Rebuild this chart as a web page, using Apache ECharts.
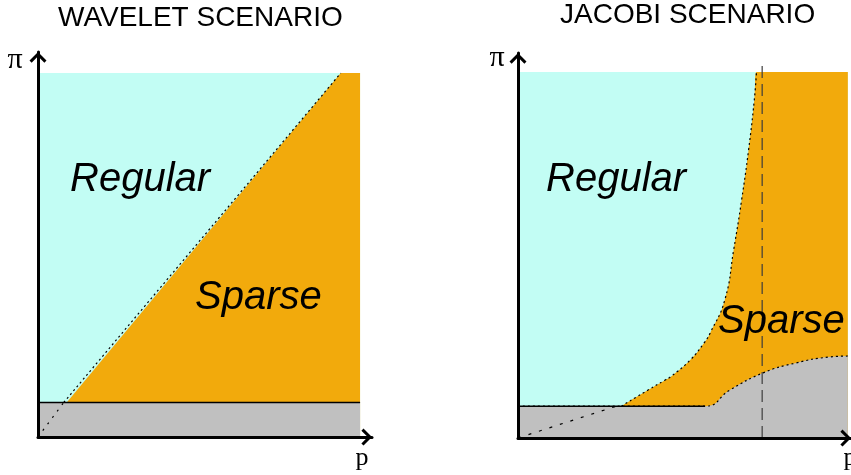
<!DOCTYPE html>
<html>
<head>
<meta charset="utf-8">
<script src="https://cdn.jsdelivr.net/npm/echarts@6/dist/echarts.min.js"></script>
<style>
  html, body { margin: 0; background: #fff; }
  #chart { width: 851px; height: 475px; }
</style>
</head>
<body>
<div id="chart"></div>
<script>
// wavelet scenario (p, pi) in units of the plotted box
const waveletTop = [[0, 1], [1, 1]];
const waveletDiagonal = [[0.08, 0.095], [0.94, 1]];
const waveletLowLine = [[0, 0], [0.08, 0.095]];
const waveletSparse = [[0, 0], [0.94, 1], [1, 1]];
const waveletFloor = [[0, 0.095], [1, 0.095]];

// jacobi scenario
const jacobiTop = [[0, 1], [1.04, 1]];
const jacobiBoundary = [[0.326, 0.087], [0.41, 0.131], [0.463, 0.158], [0.481, 0.167], [0.543, 0.213],
  [0.587, 0.26], [0.606, 0.287], [0.652, 0.377], [0.68, 0.514], [0.705, 0.65], [0.727, 0.787],
  [0.745, 0.923], [0.752, 1.0]];
const jacobiSparse = jacobiBoundary.concat([[1.04, 1]]);
const jacobiFloorFlat = [[0, 0.087], [0.59, 0.087]];
const jacobiFloor = [[0, 0.087], [0.59, 0.087], [0.668, 0.131], [0.773, 0.178], [0.876, 0.205],
  [0.978, 0.221], [1.04, 0.224]];
const jacobiLowLine = [[0, 0], [0.31, 0.087]];
const jacobiCut = [[0.77, 0], [0.77, 1.02]];

const CYAN = '#c2fdf4', ORANGE = '#f2aa0c', GRAY = '#c0c0c0';
const chevron = 'path://M10,0 L20,10 L17.5,12.5 L10,5 L2.5,12.5 L0,10 Z M10,-12.5 L10.01,-12.5 Z';

function axis(gridIndex, max) {
  return {
    gridIndex, type: 'value', min: 0, max, z: 10,
    axisLine: { show: true, onZero: false, symbol: ['none', chevron], symbolSize: [17, 24],
      lineStyle: { color: '#000', width: 3 } },
    axisTick: { show: false }, axisLabel: { show: false }, splitLine: { show: false }
  };
}
function area(i, data, color, line, smooth) {
  return {
    type: 'line', xAxisIndex: i, yAxisIndex: i, data, symbol: 'none', smooth: smooth || false,
    silent: true, areaStyle: { color, opacity: 1 },
    lineStyle: line || { width: 0 }
  };
}
function stroke(i, data, line, smooth) {
  return {
    type: 'line', xAxisIndex: i, yAxisIndex: i, data, symbol: 'none', smooth: smooth || false,
    silent: true, lineStyle: line
  };
}
function label(text, x, y, font, align) {
  return { type: 'text', x, y, z: 100, silent: true,
    style: { text, font, fill: '#000', align: align || 'left', verticalAlign: 'middle' } };
}

const sans = '"Liberation Sans", Arial, sans-serif';
const serif = '"Liberation Serif", "DejaVu Serif", serif';
const dotted = { color: '#000', width: 1.2, type: [2, 3] };
const sparseDots = { color: '#000', width: 1.2, type: [2, 6] };

const chart = echarts.init(document.getElementById('chart'));
chart.setOption({
  animation: false,
  grid: [
    { left: 38, top: 52, width: 334, height: 385 },
    { left: 518, top: 53, width: 338, height: 385 }
  ],
  xAxis: [axis(0, 1.037), axis(1, 1.05)],
  yAxis: [axis(0, 1.058), axis(1, 1.052)],
  series: [
    area(0, waveletTop, CYAN),
    area(0, waveletSparse, ORANGE),
    area(0, waveletFloor, GRAY),
    stroke(0, waveletDiagonal, dotted),
    stroke(0, waveletLowLine, sparseDots),
    stroke(0, waveletFloor, { color: '#000', width: 1.5 }),

    area(1, jacobiTop, CYAN),
    area(1, jacobiSparse, ORANGE, null, 0.5),
    stroke(1, jacobiBoundary, dotted, 0.5),
    area(1, jacobiFloor, GRAY, dotted, 0.5),
    stroke(1, jacobiFloorFlat, { color: '#000', width: 1.5 }),
    stroke(1, jacobiLowLine, { color: '#000', width: 1.2, type: [3, 8] }),
    stroke(1, jacobiCut, { color: 'rgba(60,60,60,0.8)', width: 1.5, type: [12, 6] })
  ],
  graphic: [
    label('WAVELET SCENARIO', 58, 18, '28px ' + sans),
    label('JACOBI SCENARIO', 560, 15, '28px ' + sans),
    label('Regular', 70, 180, 'italic 40px ' + sans),
    label('Sparse', 195, 298, 'italic 40px ' + sans),
    label('Regular', 546, 180, 'italic 40px ' + sans),
    label('Sparse', 718, 322, 'italic 40px ' + sans),
    label('π', 15, 60, '30px ' + serif, 'center'),
    label('π', 497, 58, '30px ' + serif, 'center'),
    label('p', 362, 458, '26px ' + serif, 'center'),
    label('p', 850, 458, '26px ' + serif, 'center')
  ]
});
</script>
</body>
</html>
